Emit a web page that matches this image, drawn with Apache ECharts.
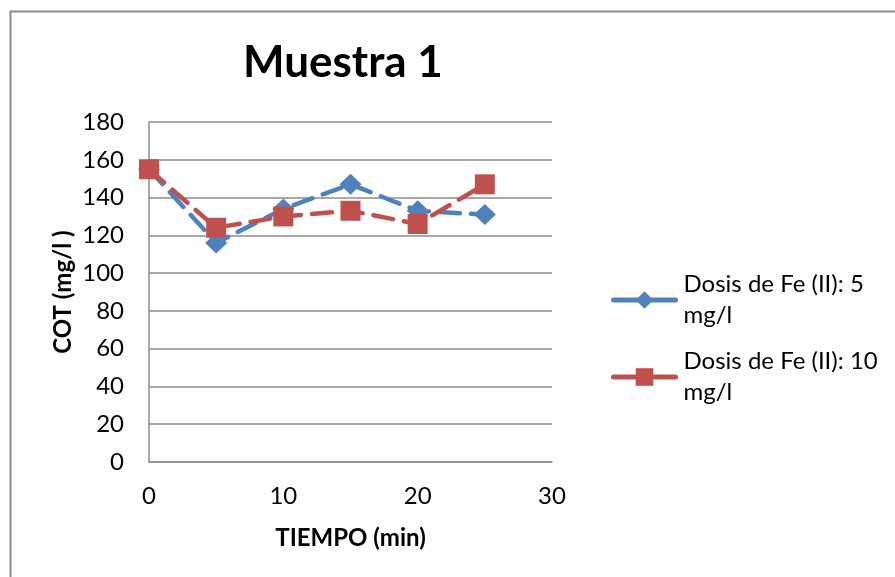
<!DOCTYPE html>
<html>
<head>
<meta charset="utf-8">
<script src="https://cdn.jsdelivr.net/npm/echarts@6/dist/echarts.min.js"></script>
<style>html,body{margin:0;padding:0;background:#fff}#c{width:895px;height:577px}</style>
</head>
<body>
<div id="c"></div>
<script>
var titleText = 'Muestra 1';
var xName = 'TIEMPO (min)';
var yName = 'COT (mg/l )';
var times = [0, 5, 10, 15, 20, 25];
var seriesNames = ['Dosis de Fe (II): 5 mg/l', 'Dosis de Fe (II): 10 mg/l'];
var dosis5 = [155, 116, 134, 147, 133, 131];
var dosis10 = [155, 124, 130, 133, 126, 147];

var FONT = 'Lato';
function pairs(xs, ys) { return xs.map(function (x, i) { return [x, ys[i]]; }); }

var chart = echarts.init(document.getElementById('c'), null, {renderer: 'canvas'});
chart.setOption({
  backgroundColor: '#fff',
  animation: false,
  graphic: [{
    type: 'rect', left: 8, top: 9,
    shape: {x: 0, y: 0, width: 1000, height: 1000},
    style: {fill: 'none', stroke: '#8c8c8c', lineWidth: 2}
  }],
  title: {
    text: titleText, left: 238, top: 36,
    textStyle: {fontFamily: FONT, fontWeight: 'bold', fontSize: 44, color: '#000'}
  },
  grid: {left: 149, right: 343, top: 122, bottom: 115},
  legend: {
    orient: 'vertical', left: 606, top: 264,
    itemWidth: 62, itemHeight: 22, itemGap: 15,
    formatter: function (n) { return n.replace(' mg/l', '\nmg/l'); },
    lineStyle: {type: 'solid', width: 5, cap: 'round'},
    textStyle: {fontFamily: FONT, fontSize: 24, color: '#000', lineHeight: 31, padding: [0, 0, 0, 3], verticalAlign: 'top'},
    data: seriesNames
  },
  xAxis: {
    type: 'value', min: 0, max: 30, interval: 10,
    name: xName, nameLocation: 'middle', nameGap: 64,
    nameTextStyle: {fontFamily: FONT, fontWeight: 'bold', fontSize: 24, color: '#000'},
    axisLine: {show: true, onZero: false, lineStyle: {color: '#8c8c8c', width: 1.5}},
    axisTick: {show: false},
    splitLine: {show: false},
    axisLabel: {fontFamily: FONT, fontSize: 24, color: '#000', margin: 22}
  },
  yAxis: {
    type: 'value', min: 0, max: 180, interval: 20,
    name: yName, nameLocation: 'middle', nameGap: 74, nameRotate: 90,
    nameTextStyle: {fontFamily: FONT, fontWeight: 'bold', fontSize: 24, color: '#000'},
    axisLine: {show: true, lineStyle: {color: '#8c8c8c', width: 1.5}},
    axisTick: {show: false},
    splitLine: {show: true, lineStyle: {color: '#8c8c8c', width: 1.5}},
    axisLabel: {fontFamily: FONT, fontSize: 24, color: '#000', margin: 25}
  },
  series: [{
    name: seriesNames[0], type: 'line', data: pairs(times, dosis5),
    symbol: 'diamond', symbolSize: [22, 21],
    itemStyle: {color: '#4F81BD'},
    lineStyle: {color: '#4F81BD', width: 4.5, type: [20, 11], cap: 'round'}
  }, {
    name: seriesNames[1], type: 'line', data: pairs(times, dosis10),
    symbol: 'rect', symbolSize: 20,
    itemStyle: {color: '#C0504D'},
    lineStyle: {color: '#C0504D', width: 4.5, type: [20, 11], cap: 'round'}
  }]
});
</script>
</body>
</html>
